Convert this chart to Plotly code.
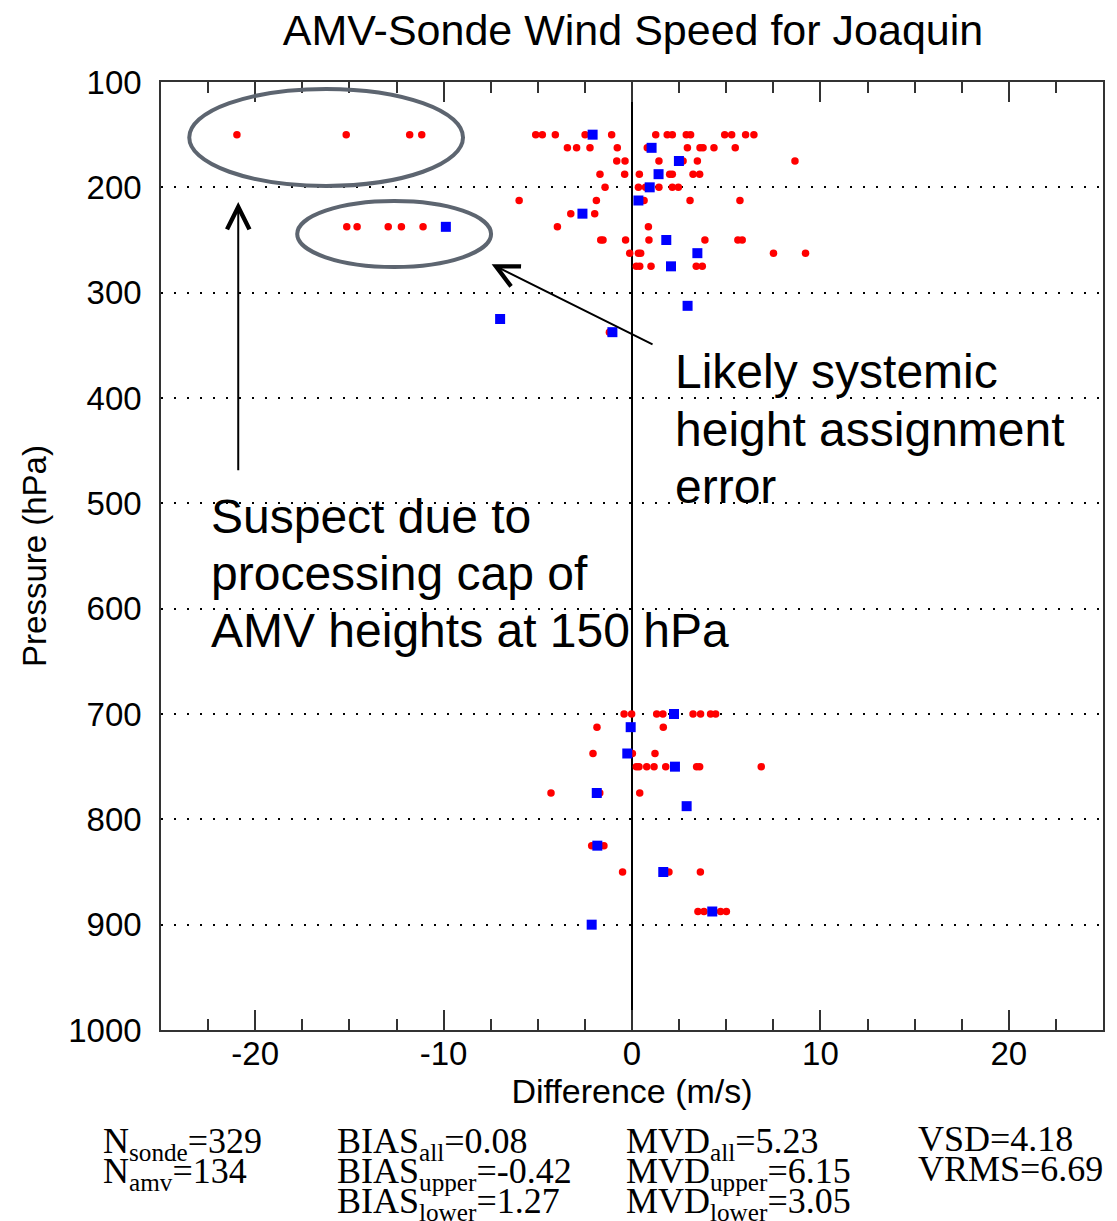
import plotly.graph_objects as go

# ---- data ----
red_x = [-20.97, -15.17, -11.8, -11.16, -5.11, -4.76, -4.07, -2.49, -1.08, 1.26, 1.87, 2.14, 2.88, 3.11, 4.92, 5.29, 6.03, 6.47,
         -3.43, -2.94, -2.23, -0.78, 0.81, 2.94, 3.61, 3.77, 4.35, 5.48,
         -0.81, -0.37, 1.43, 2.71, 3.47, 8.65,
         -1.70, -0.39, 0.39, 2.0, 2.14, 3.24, 3.59,
         -1.43, 0.34, 0.72, 1.43, 2.14, 2.46,
         -5.99, -1.89, 0.64, 3.08, 5.73,
         -3.25, -1.98,
         -15.14, -14.59, -12.94, -12.24, -11.09, -3.96, 0.87,
         -1.66, -1.54, -0.34, 0.90, 3.87, 5.62, 5.85,
         -0.12, 0.34, 0.46, 7.51, 9.21,
         0.23, 0.41, 1.01, 3.41, 3.73,
         -1.2,
         -0.42, -0.02, 1.31, 1.64, 3.24, 3.64, 4.17, 4.44,
         -1.86, 1.66,
         -2.07, 0.02, 1.22,
         0.23, 0.37, 0.78, 1.17, 1.79, 3.43, 3.59, 6.86,
         -4.30, -1.71, 0.41,
         -2.14, -1.49,
         -0.50, 1.96, 3.63,
         3.50, 3.82, 4.70, 5.01]
red_p = [150] * 18 + [162.5] * 10 + [175] * 6 + [187.5] * 7 + [200] * 6 + [212.5] * 5 + [225] * 2 + \
        [237.5] * 7 + [250] * 7 + [262.5] * 5 + [275] * 5 + [337.5] + [700] * 8 + [712.5] * 2 + \
        [737.5] * 3 + [750] * 8 + [775] * 3 + [825] * 2 + [850] * 3 + [887.5] * 4

blue_x = [-2.09, 1.04, 2.49, 1.41, 0.94, 0.34, -2.63, -9.88, 1.82, 3.47, 2.07, 2.95, -7.0, -1.04,
          2.23, -0.07, -0.25, 2.28, -1.87, 2.90, -1.84, 1.66, 4.26, -2.14]
blue_p = [150, 162.5, 175, 187.5, 200, 212.5, 225, 237.5, 250, 262.5, 275, 312.5, 325, 337.5,
          700, 712.5, 737.5, 750, 775, 787.5, 825, 850, 887.5, 900]

x_ticks = [-20, -10, 0, 10, 20]
y_ticks = [100, 200, 300, 400, 500, 600, 700, 800, 900, 1000]

title = "AMV-Sonde Wind Speed for Joaquin"
note1 = ["Likely systemic", "height assignment", "error"]
note2 = ["Suspect due to", "processing cap of", "AMV heights at 150 hPa"]
stats = [
    ["N<sub>sonde</sub>=329", "N<sub>amv</sub>=134"],
    ["BIAS<sub>all</sub>=0.08", "BIAS<sub>upper</sub>=-0.42", "BIAS<sub>lower</sub>=1.27"],
    ["MVD<sub>all</sub>=5.23", "MVD<sub>upper</sub>=6.15", "MVD<sub>lower</sub>=3.05"],
    ["VSD=4.18", "VRMS=6.69"],
]

W, H = 1117, 1221
L, R, T, B = 161, 1105, 82, 1030


def px(xp):
    return (xp - L) / (R - L)


def py(yp):
    return (B - yp) / (B - T)


SANS = "Liberation Sans, Arial, sans-serif"
SERIF = "Liberation Serif, Times New Roman, serif"

fig = go.Figure()
fig.add_trace(go.Scatter(x=red_x, y=red_p, mode="markers",
                         marker=dict(symbol="circle", size=7.5, color="#ff0000", line=dict(width=0)),
                         showlegend=False, hoverinfo="skip"))
fig.add_trace(go.Scatter(x=blue_x, y=blue_p, mode="markers",
                         marker=dict(symbol="square", size=10, color="#0000ff", line=dict(width=0)),
                         showlegend=False, hoverinfo="skip"))

# ellipses
for x0, x1, y0, y1 in [(-23.5, -8.97, 106.6, 198.7), (-17.77, -7.48, 213.0, 275.6)]:
    fig.add_shape(type="circle", xref="x", yref="y", x0=x0, x1=x1, y0=y0, y1=y1,
                  line=dict(color="#5d6570", width=4), layer="above")

# arrows
fig.add_annotation(x=-20.9, y=214, ax=-20.9, ay=470, xref="x", yref="y", axref="x", ayref="y",
                   text="", showarrow=True, arrowhead=5, arrowsize=2.2, arrowwidth=2, arrowcolor="black")
fig.add_annotation(x=-7.45, y=273, ax=1.17, ay=349.7, xref="x", yref="y", axref="x", ayref="y",
                   text="", showarrow=True, arrowhead=5, arrowsize=2.2, arrowwidth=2, arrowcolor="black")

# notes
for i, t in enumerate(note1):
    fig.add_annotation(x=px(674), y=py(371 + 58 * i), xref="paper", yref="paper", text=t, showarrow=False,
                       xanchor="left", yanchor="middle", font=dict(family=SANS, size=48, color="black"))
for i, t in enumerate(note2):
    fig.add_annotation(x=px(209), y=py(516 + 57 * i), xref="paper", yref="paper", text=t, showarrow=False,
                       xanchor="left", yanchor="middle", font=dict(family=SANS, size=48, color="black"))

# stats
col_x = [101, 335, 625, 918]
for c, col in enumerate(stats):
    for r, t in enumerate(col):
        yy = 1143 + 30 * r - (0 if "<sub>" in t else 4)
        fig.add_annotation(x=px(col_x[c]), y=py(yy), xref="paper", yref="paper", text=t,
                           showarrow=False, xanchor="left", yanchor="middle",
                           font=dict(family=SERIF, size=36, color="black"))

fig.update_layout(
    width=W, height=H,
    margin=dict(l=L, r=W - R, t=T, b=H - B),
    plot_bgcolor="white", paper_bgcolor="white",
    title=dict(text=title, x=633 / W, xanchor="center", y=1 - 30 / H, yanchor="middle",
               font=dict(family=SANS, size=43, color="black")),
    font=dict(family=SANS, color="black"),
)
fig.update_xaxes(range=[-25, 25], tickvals=x_ticks, ticktext=[str(v) for v in x_ticks],
                 ticks="inside", ticklen=20, tickwidth=1.5, tickcolor="#333", ticklabelstandoff=-6,
                 minor=dict(ticks="inside", dtick=2.5, tick0=0, ticklen=11, tickwidth=1.5, tickcolor="#333"),
                 showline=True, linecolor="#333", linewidth=1.5, mirror="ticks",
                 showgrid=False, zeroline=True, zerolinecolor="black", zerolinewidth=1.5,
                 tickfont=dict(size=33), title=dict(text="Difference (m/s)", font=dict(size=34), standoff=3))
fig.update_yaxes(range=[1000, 100], tickvals=y_ticks, ticks="outside", ticklen=11,
                 tickcolor="rgba(0,0,0,0)", showline=True, linecolor="#333", linewidth=1.5, mirror=True,
                 showgrid=True, gridcolor="black", gridwidth=1.5, griddash="2px,11px", zeroline=False,
                 tickfont=dict(size=33), title=dict(text="Pressure (hPa)", font=dict(size=33), standoff=12))

fig.write_html("out.html")
